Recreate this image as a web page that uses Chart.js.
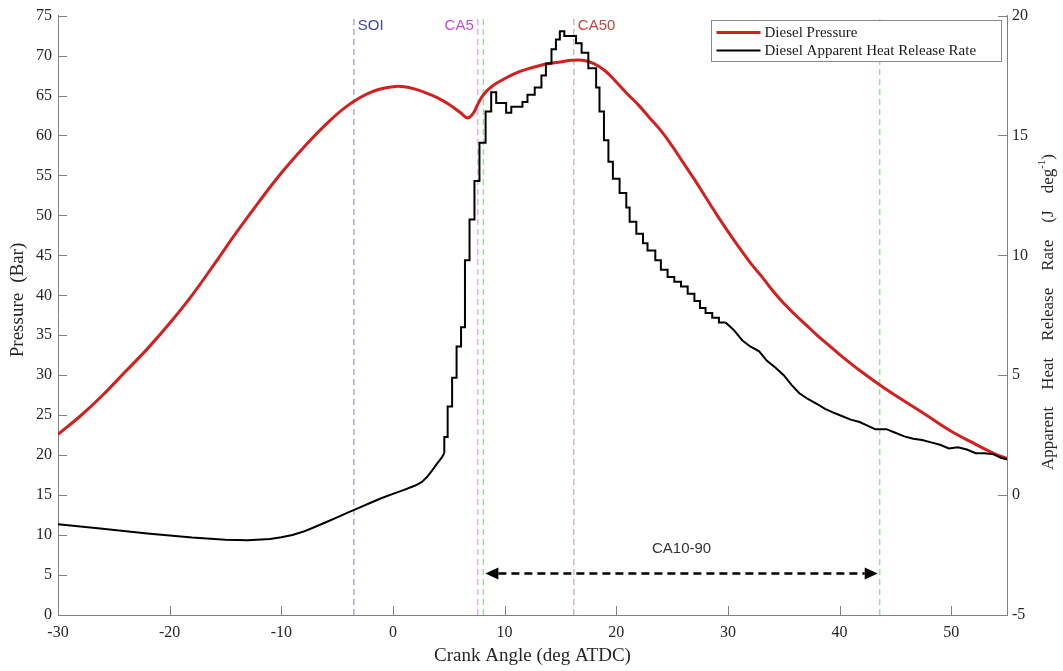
<!DOCTYPE html>
<html>
<head>
<meta charset="utf-8">
<title>Diesel combustion</title>
<script src="https://cdn.jsdelivr.net/npm/chart.js@4.4.0/dist/chart.umd.min.js"></script>
<style>
  html, body { margin: 0; padding: 0; background: #fff; }
  #wrap { width: 1063px; height: 671px; }
</style>
</head>
<body>
<div id="wrap"><canvas id="combustionChart" width="1063" height="671"></canvas></div>
<script>
// cylinder pressure (bar) against crank angle
const crankPressure = [-30, -28, -26, -24, -22, -20, -18, -16, -14, -12, -10, -8, -6, -4, -2, 0, 1, 2, 3, 4, 5, 6, 6.7, 7.2, 7.6, 8, 8.5, 9, 10, 11, 12, 13, 14, 15, 16, 17, 18, 19, 20, 21, 22, 23, 24, 25, 26, 27, 28, 29, 30, 31, 32, 33, 34, 35, 36, 37, 38, 39, 40, 42, 44, 46, 48, 50, 52, 54, 55];
const pressure = [22.6, 24.9, 27.5, 30.4, 33.3, 36.5, 40.0, 43.9, 47.9, 51.7, 55.3, 58.5, 61.4, 63.8, 65.4, 66.1, 66.1, 65.8, 65.3, 64.7, 63.9, 62.9, 62.2, 62.8, 63.9, 64.9, 65.7, 66.3, 67.1, 67.8, 68.3, 68.7, 69.0, 69.2, 69.4, 69.4, 69.0, 68.1, 66.7, 65.2, 63.8, 62.2, 60.6, 58.7, 56.6, 54.5, 52.3, 50.1, 48.0, 46.0, 44.1, 42.4, 40.6, 39.0, 37.6, 36.3, 35.0, 33.8, 32.6, 30.4, 28.4, 26.6, 24.8, 23.0, 21.5, 20.1, 19.6];

// apparent heat release rate (J/deg)
// compression part, before ignition
const crankHrrRamp = [-30, -26, -22, -18, -15, -13, -11, -10, -9, -8, -7, -6, -5, -4, -3, -2, -1, 0, 1, 2, 2.6, 3.1, 3.5, 3.9, 4.3, 4.6];
const hrrRamp = [-1.21, -1.40, -1.60, -1.77, -1.86, -1.88, -1.83, -1.76, -1.66, -1.52, -1.33, -1.13, -0.93, -0.72, -0.52, -0.32, -0.12, 0.05, 0.22, 0.40, 0.55, 0.78, 1.02, 1.28, 1.52, 1.75];
// main burn, sample-and-hold values
const crankHrrBurn = [4.6, 4.9, 5.3, 5.7, 6.1, 6.45, 6.86, 7.3, 7.75, 8.3, 8.8, 9.25, 10.14, 10.6, 11.6, 12.05, 12.7, 13.3, 13.7, 14.2, 14.6, 14.95, 15.35, 16.4, 16.9, 17.5, 18.2, 18.5, 18.9, 19.3, 19.7, 20.3, 20.9, 21.2, 21.8, 22.4, 22.8, 23.5, 24.0, 24.6, 25.2, 25.8, 26.4, 27.0, 27.5, 28.0, 28.6, 29.2, 29.8];
const hrrBurn = [1.75, 2.42, 3.70, 4.90, 6.20, 7.00, 9.80, 11.5, 13.1, 14.7, 16.0, 16.8, 16.35, 15.95, 16.2, 16.4, 16.7, 17.0, 17.5, 18.0, 18.6, 19.0, 19.35, 19.15, 18.85, 18.45, 17.8, 17.0, 16.0, 14.8, 13.9, 13.2, 12.6, 12.0, 11.4, 10.9, 10.5, 10.2, 9.8, 9.4, 9.1, 8.9, 8.7, 8.4, 8.1, 7.8, 7.6, 7.4, 7.2];
// late burn / expansion
const crankHrrTail = [29.8, 30.5, 31.3, 32, 32.8, 33.5, 34.3, 35, 35.7, 36.4, 37.2, 38, 38.7, 39.4, 40.2, 41, 41.8, 42.5, 43.2, 44.2, 45, 45.8, 46.6, 47.4, 48.2, 49, 49.8, 50.6, 51.4, 52.2, 53, 53.8, 54.5, 55];
const hrrTail = [7.2, 6.9, 6.45, 6.2, 6.0, 5.6, 5.3, 5.0, 4.6, 4.25, 4.0, 3.8, 3.6, 3.45, 3.3, 3.15, 3.05, 2.9, 2.75, 2.75, 2.6, 2.45, 2.35, 2.3, 2.2, 2.1, 1.95, 2.0, 1.9, 1.75, 1.75, 1.7, 1.55, 1.5];

// combustion events (deg ATDC)
const eventNames = ["SOI", "CA5", "CA10", "CA50", "CA90"];
const eventAngles = [-3.5, 7.6, 8.1, 16.2, 43.6];

const seriesLabels = ["Diesel Pressure", "Diesel Apparent Heat Release Rate"];

const serif = '"Liberation Serif", "Times New Roman", serif';
const sans = '"Liberation Sans", Arial, sans-serif';
const axisGrey = "#808080";
const textDark = "#262626";
const pressureRed = "#d41f1f";

const eventStyle = {
  SOI: { line: "#a4a4dc", text: "#4545a8", side: 1 },
  CA5: { line: "#e2aaf0", text: "#c24ade", side: -1 },
  CA10: { line: "#98e098", text: null, side: 0 },
  CA50: { line: "#d4b4ac", text: "#c4463e", side: 1 },
  CA90: { line: "#98e098", text: null, side: 0 },
};

const toPoints = (xs, ys) => xs.map((x, i) => ({ x: x, y: ys[i] }));

// inward tick marks, matlab style
const drawTickMarks = (chart) => {
  const { ctx, chartArea, scales } = chart;
  const len = 9;
  ctx.save();
  ctx.strokeStyle = axisGrey;
  ctx.lineWidth = 1;
  ctx.beginPath();
  scales.x.ticks.forEach((t) => {
    if (t.value > 50) return;
    const px = Math.round(scales.x.getPixelForValue(t.value)) + 0.5;
    ctx.moveTo(px, chartArea.bottom);
    ctx.lineTo(px, chartArea.bottom - len);
  });
  scales.yP.ticks.forEach((t) => {
    const py = Math.round(scales.yP.getPixelForValue(t.value)) + 0.5;
    ctx.moveTo(chartArea.left, py);
    ctx.lineTo(chartArea.left + len, py);
  });
  scales.yH.ticks.forEach((t) => {
    const py = Math.round(scales.yH.getPixelForValue(t.value)) + 0.5;
    ctx.moveTo(chartArea.right, py);
    ctx.lineTo(chartArea.right - len, py);
  });
  ctx.stroke();
  ctx.restore();
};

const drawEventLines = (chart) => {
  const { ctx, chartArea, scales } = chart;
  ctx.save();
  ctx.lineWidth = 1.4;
  ctx.setLineDash([6, 4]);
  eventNames.forEach((name, i) => {
    const px = scales.x.getPixelForValue(eventAngles[i]);
    ctx.strokeStyle = eventStyle[name].line;
    ctx.beginPath();
    ctx.moveTo(px, chartArea.bottom);
    ctx.lineTo(px, chartArea.top);
    ctx.stroke();
  });
  ctx.restore();
};

const drawEventLabels = (chart) => {
  const { ctx, chartArea, scales } = chart;
  ctx.save();
  ctx.font = "15px " + sans;
  ctx.textBaseline = "middle";
  eventNames.forEach((name, i) => {
    const st = eventStyle[name];
    if (!st.text) return;
    const px = scales.x.getPixelForValue(eventAngles[i]);
    ctx.fillStyle = st.text;
    ctx.textAlign = st.side > 0 ? "left" : "right";
    ctx.fillText(name, px + st.side * 4, chartArea.top + 10);
  });
  ctx.restore();
};

// CA10 -> CA90 duration arrow
const drawDurationArrow = (chart) => {
  const { ctx, scales } = chart;
  const x0 = scales.x.getPixelForValue(eventAngles[2]) + 2;
  const x1 = scales.x.getPixelForValue(eventAngles[4]) - 2;
  const py = scales.yP.getPixelForValue(5.2);
  const head = 13;
  ctx.save();
  ctx.strokeStyle = "#000";
  ctx.fillStyle = "#000";
  ctx.lineWidth = 2.5;
  ctx.setLineDash([8, 5]);
  ctx.beginPath();
  ctx.moveTo(x0 + head, py);
  ctx.lineTo(x1 - head, py);
  ctx.stroke();
  ctx.setLineDash([]);
  ctx.beginPath();
  ctx.moveTo(x0, py);
  ctx.lineTo(x0 + head, py - 6);
  ctx.lineTo(x0 + head, py + 6);
  ctx.closePath();
  ctx.moveTo(x1, py);
  ctx.lineTo(x1 - head, py - 6);
  ctx.lineTo(x1 - head, py + 6);
  ctx.closePath();
  ctx.fill();
  ctx.font = "15px " + sans;
  ctx.fillStyle = "#333";
  ctx.textAlign = "center";
  ctx.textBaseline = "middle";
  ctx.fillText("CA10-90", (x0 + x1) / 2, py - 25);
  ctx.restore();
};

const drawLegend = (chart) => {
  const { ctx } = chart;
  const colors = [pressureRed, "#000"];
  const box = { x: 711.5, y: 20.5, w: 290, h: 41 };
  ctx.save();
  ctx.fillStyle = "#fff";
  ctx.fillRect(box.x, box.y, box.w, box.h);
  ctx.strokeStyle = "#8a8a8a";
  ctx.lineWidth = 1;
  ctx.strokeRect(box.x, box.y, box.w, box.h);
  ctx.font = "15px " + serif;
  ctx.textBaseline = "middle";
  ctx.textAlign = "left";
  seriesLabels.forEach((label, i) => {
    const y = box.y + 12 + i * 18;
    ctx.strokeStyle = colors[i];
    ctx.lineWidth = i === 0 ? 3 : 2;
    ctx.beginPath();
    ctx.moveTo(box.x + 5, y);
    ctx.lineTo(box.x + 49, y);
    ctx.stroke();
    ctx.fillStyle = "#1a1a1a";
    ctx.fillText(label, box.x + 53, y + 1);
  });
  ctx.restore();
};

// words laid out along the baseline with a fixed gap, optional superscript runs
const drawSpacedText = (ctx, parts, gap, size) => {
  const widths = parts.map((p) => {
    ctx.font = (p.sup ? Math.round(size * 0.65) : size) + "px " + serif;
    return ctx.measureText(p.text).width;
  });
  let total = 0;
  parts.forEach((p, i) => { total += widths[i] + (p.gapAfter ? gap : 0); });
  let x = -total / 2;
  parts.forEach((p, i) => {
    ctx.font = (p.sup ? Math.round(size * 0.65) : size) + "px " + serif;
    ctx.fillText(p.text, x, p.sup ? -size * 0.38 : 0);
    x += widths[i] + (p.gapAfter ? gap : 0);
  });
};

const drawAxisTitles = (chart) => {
  const { ctx, chartArea } = chart;
  ctx.save();
  ctx.fillStyle = textDark;
  ctx.textBaseline = "middle";
  ctx.textAlign = "center";
  ctx.font = "19px " + serif;
  ctx.fillText("Crank Angle (deg ATDC)", (chartArea.left + chartArea.right) / 2, 656);

  ctx.textAlign = "left";
  ctx.save();
  ctx.translate(18, 300);
  ctx.rotate(-Math.PI / 2);
  drawSpacedText(ctx, [
    { text: "Pressure", gapAfter: true },
    { text: "(Bar)" },
  ], 10, 19);
  ctx.restore();

  ctx.save();
  ctx.translate(1049, 312);
  ctx.rotate(-Math.PI / 2);
  drawSpacedText(ctx, [
    { text: "Apparent", gapAfter: true },
    { text: "Heat", gapAfter: true },
    { text: "Release", gapAfter: true },
    { text: "Rate", gapAfter: true },
    { text: "(J", gapAfter: true },
    { text: "deg" },
    { text: "-1", sup: true },
    { text: ")" },
  ], 17, 17);
  ctx.restore();
  ctx.restore();
};

const overlayPlugin = {
  id: "combustionOverlay",
  beforeDatasetsDraw(chart) {
    drawEventLines(chart);
  },
  afterDatasetsDraw(chart) {
    drawTickMarks(chart);
    drawEventLabels(chart);
    drawDurationArrow(chart);
    drawLegend(chart);
    drawAxisTitles(chart);
  },
};

const tickFont = { family: serif, size: 16 };
const hrrStyle = { yAxisID: "yH", borderColor: "#000", borderWidth: 2, pointRadius: 0, order: 0 };

const ctx = document.getElementById("combustionChart").getContext("2d");
const combustionChart = new Chart(ctx, {
  type: "line",
  data: {
    datasets: [
      {
        label: seriesLabels[0],
        data: toPoints(crankPressure, pressure),
        yAxisID: "yP",
        borderColor: pressureRed,
        borderWidth: 3,
        pointRadius: 0,
        tension: 0.4,
        order: 1,
      },
      { ...hrrStyle, label: seriesLabels[1], data: toPoints(crankHrrRamp, hrrRamp) },
      { ...hrrStyle, label: seriesLabels[1], data: toPoints(crankHrrBurn, hrrBurn), stepped: "after" },
      { ...hrrStyle, label: seriesLabels[1], data: toPoints(crankHrrTail, hrrTail) },
    ],
  },
  options: {
    responsive: false,
    animation: false,
    devicePixelRatio: 1,
    layout: { padding: { top: 14, left: 0, right: 0, bottom: 0 } },
    plugins: {
      legend: { display: false },
      tooltip: { enabled: false },
    },
    scales: {
      x: {
        type: "linear",
        min: -30,
        max: 55,
        border: { display: true, color: axisGrey, width: 1 },
        grid: { drawOnChartArea: false, drawTicks: false },
        ticks: {
          stepSize: 10,
          padding: 8,
          font: tickFont,
          color: textDark,
          callback: (v) => (v > 50 ? "" : v),
        },
        afterFit: (s) => { s.height = 56; },
      },
      yP: {
        position: "left",
        min: 0,
        max: 75,
        border: { display: true, color: axisGrey, width: 1 },
        grid: { drawOnChartArea: false, drawTicks: false },
        ticks: { stepSize: 5, padding: 6, font: tickFont, color: textDark },
        afterFit: (s) => { s.width = 58; },
      },
      yH: {
        position: "right",
        min: -5,
        max: 20,
        border: { display: true, color: axisGrey, width: 1 },
        grid: { drawOnChartArea: false, drawTicks: false },
        ticks: { stepSize: 5, padding: 5, font: tickFont, color: textDark },
        afterFit: (s) => { s.width = 56; },
      },
    },
  },
  plugins: [overlayPlugin],
});
</script>
</body>
</html>
